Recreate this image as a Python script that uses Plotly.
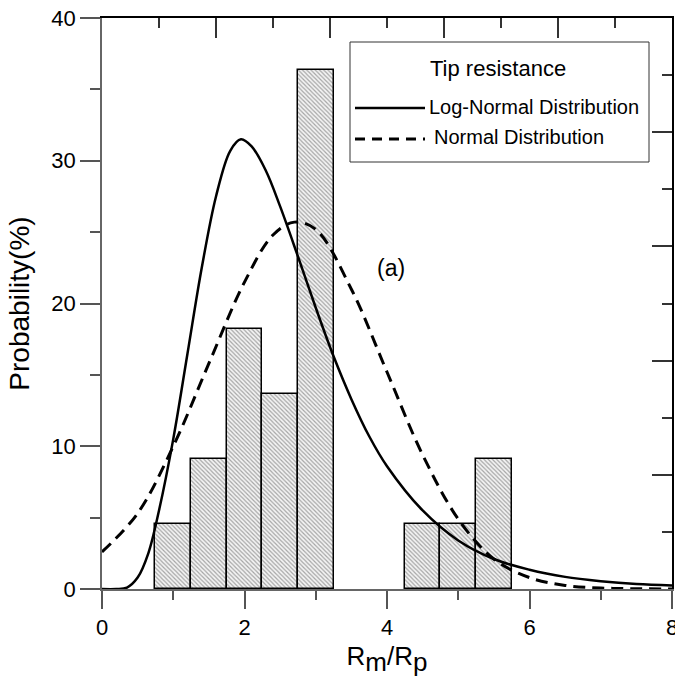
import plotly.graph_objects as go

# ---- data ----
bin_centers = [1.0, 1.5, 2.0, 2.5, 3.0, 4.5, 5.0, 5.5]
bin_probs = [4.55, 9.09, 18.18, 13.64, 36.36, 4.55, 4.55, 9.09]
bin_width = 0.5

lognorm_x = [0.0, 0.2, 0.35, 0.5, 0.65, 0.8, 1.0, 1.2, 1.4, 1.6, 1.8, 1.95, 2.1, 2.3, 2.5,
             2.75, 3.0, 3.25, 3.5, 3.75, 4.0, 4.5, 5.0, 5.5, 6.0, 6.5, 7.0, 7.5, 8.0]
lognorm_y = [0.0, 0.0, 0.1, 0.8, 2.5, 5.5, 10.5, 16.5, 22.5, 27.5, 30.7, 31.5, 31.0, 29.3, 26.8,
             23.3, 19.7, 16.3, 13.3, 10.7, 8.6, 5.5, 3.4, 2.1, 1.35, 0.85, 0.55, 0.35, 0.25]

normal_x = [0.0, 0.5, 1.0, 1.5, 2.0, 2.4, 2.7, 3.0, 3.5, 4.0, 4.5, 5.0, 5.5, 6.0, 6.5, 7.0, 7.5, 8.0]
normal_y = [2.6, 5.3, 10.0, 15.8, 21.5, 24.8, 25.7, 25.2, 21.0, 15.2, 9.4, 4.9, 2.1, 0.8, 0.25, 0.07, 0.02, 0.0]

legend_title = "Tip resistance"
legend_labels = ["Log-Normal Distribution", "Normal Distribution"]

FONT = "Liberation Sans, Arial, sans-serif"

fig = go.Figure()
fig.add_trace(go.Bar(
    x=bin_centers, y=bin_probs, width=bin_width,
    marker=dict(color="white", line=dict(color="black", width=1.5),
                pattern=dict(shape="\\", fgcolor="#555", bgcolor="#f4f4f4", size=3, solidity=0.4)),
    showlegend=False,
))
fig.add_trace(go.Scatter(x=lognorm_x, y=lognorm_y, mode="lines",
                         line=dict(color="black", width=2.5, shape="spline", smoothing=1.0),
                         showlegend=False))
fig.add_trace(go.Scatter(x=normal_x, y=normal_y, mode="lines",
                         line=dict(color="black", width=3, shape="spline", smoothing=1.0, dash="12px,7px"),
                         showlegend=False))
# dummy trace for the mirrored axes
fig.add_trace(go.Scatter(x=[None], y=[None], xaxis="x2", yaxis="y2", showlegend=False))

fig.update_layout(
    width=675, height=684,
    margin=dict(l=102, r=3, t=18, b=95, autoexpand=False),
    paper_bgcolor="white", plot_bgcolor="white",
    font=dict(family=FONT, color="black", size=22),
    showlegend=False,
    bargap=0,
    xaxis=dict(range=[0, 8], tickvals=[0, 2, 4, 6, 8], ticks="outside", ticklen=18, tickwidth=1.5,
               tickcolor="#555", showline=True, linecolor="#666", linewidth=1.5, showgrid=False,
               zeroline=False, tickfont=dict(size=22), ticklabeloverflow="allow", automargin=False,
               minor=dict(tickvals=[1, 3, 5, 7], ticks="outside", ticklen=9, tickcolor="#555", tickwidth=1.5),
               title=dict(text="R<sub><span style='font-size:26px'>m</span></sub>/R<sub><span style='font-size:26px'>p</span></sub>",
                          font=dict(size=26), standoff=8)),
    yaxis=dict(range=[0, 40], tickvals=[0, 10, 20, 30, 40], ticks="outside", ticklen=20, tickwidth=1.5,
               tickcolor="#555", showline=True, linecolor="#666", linewidth=1.5, showgrid=False,
               zeroline=False, tickfont=dict(size=22), automargin=False,
               minor=dict(tickvals=[5, 15, 25, 35], ticks="outside", ticklen=10, tickcolor="#555", tickwidth=1.5),
               title=dict(text="Probability(%)", font=dict(size=28), standoff=14)),
    xaxis2=dict(range=[0, 10], overlaying="x", side="top", tickvals=[0, 2, 4, 6, 8, 10], ticks="inside",
                ticklen=20, tickwidth=1.5, tickcolor="#333", showticklabels=False, showline=True,
                linecolor="black", linewidth=1.5, showgrid=False, zeroline=False, automargin=False,
                minor=dict(tickvals=[1, 3, 5, 7, 9], ticks="inside", ticklen=10, tickcolor="#333", tickwidth=1.5)),
    yaxis2=dict(range=[0, 10], overlaying="y", side="right", tickvals=[0, 2, 4, 6, 8, 10], ticks="inside",
                ticklen=20, tickwidth=1.5, tickcolor="#333", showticklabels=False, showline=True,
                linecolor="black", linewidth=1.5, showgrid=False, zeroline=False, automargin=False,
                minor=dict(tickvals=[1, 3, 5, 7, 9], ticks="inside", ticklen=10, tickcolor="#333", tickwidth=1.5)),
)

# manual legend box (paper coords)
W, H, L, T = 570.0, 571.0, 102.0, 18.0
def px(xp):
    return (xp - L) / W
def py(yp):
    return 1 - (yp - T) / H

fig.add_shape(type="rect", xref="paper", yref="paper", x0=px(350), x1=px(649), y0=py(162), y1=py(42),
              line=dict(color="#333", width=1), fillcolor="white", layer="above")
fig.add_shape(type="line", xref="paper", yref="paper", x0=px(355), x1=px(425), y0=py(108), y1=py(108),
              line=dict(color="black", width=2.5), layer="above")
fig.add_shape(type="line", xref="paper", yref="paper", x0=px(355), x1=px(425), y0=py(139), y1=py(139),
              line=dict(color="black", width=3, dash="10px,7px"), layer="above")
fig.add_annotation(xref="paper", yref="paper", x=px(498), y=py(69), text=legend_title, showarrow=False,
                   xanchor="center", yanchor="middle", font=dict(size=22))
fig.add_annotation(xref="paper", yref="paper", x=px(427), y=py(107), text=legend_labels[0], showarrow=False,
                   xanchor="left", yanchor="middle", font=dict(size=20))
fig.add_annotation(xref="paper", yref="paper", x=px(432), y=py(137), text=legend_labels[1], showarrow=False,
                   xanchor="left", yanchor="middle", font=dict(size=20))
fig.add_annotation(x=4.06, y=22.5, text="(a)", showarrow=False, xanchor="center", yanchor="middle",
                   font=dict(size=23))

fig.write_html("out.html")
